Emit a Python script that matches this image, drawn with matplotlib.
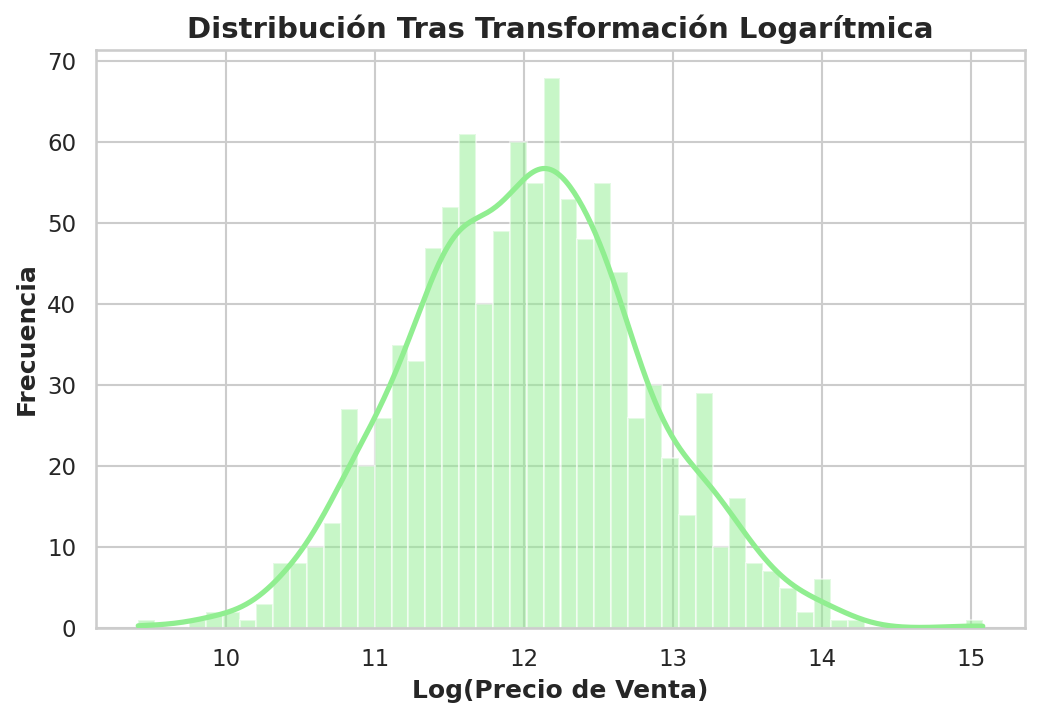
import numpy as np
import matplotlib
matplotlib.use("Agg")
import matplotlib.pyplot as plt
import seaborn as sns

""" Data """

# histogram: 50 bins between bin_lo and bin_hi
bin_lo = 9.413
bin_hi = 15.081
counts = [1, 0, 0, 1, 2, 2, 1, 3, 8, 8,
          10, 13, 27, 20, 26, 35, 33, 47, 52, 61,
          40, 49, 60, 55, 68, 53, 48, 55, 44, 26,
          30, 21, 14, 29, 10, 16, 8, 7, 5, 2,
          6, 1, 1, 0, 0, 0, 0, 0, 0, 1]

title = 'Distribución Tras Transformación Logarítmica'
xlabel = 'Log(Precio de Venta)'
ylabel = 'Frecuencia'
xticks = [10, 11, 12, 13, 14, 15]
yticks = [0, 10, 20, 30, 40, 50, 60, 70]

""" Prep """

counts = np.array(counts, dtype=float)
edges = np.linspace(bin_lo, bin_hi, len(counts) + 1)
centers = (edges[:-1] + edges[1:]) / 2
width = edges[1] - edges[0]

# gaussian kde on the binned values (scott bandwidth), cut at data range
n = counts.sum()
mean = np.sum(centers * counts) / n
std = np.sqrt(np.sum(counts * (centers - mean) ** 2) / n)
bw = std * n ** (-1 / 5)
grid = np.linspace(bin_lo, bin_hi, 400)
dens = np.zeros_like(grid)
for c, w in zip(centers, counts):
    dens += w * np.exp(-0.5 * ((grid - c) / bw) ** 2)
dens = dens / (n * bw * np.sqrt(2 * np.pi))
kde_y = dens * n * width

""" Plot """

sns.set_theme(style='whitegrid', context='notebook')
plt.rcParams['font.family'] = ['DejaVu Sans']

fig = plt.figure(figsize=(1041 / 150, 718 / 150), dpi=150)
ax = fig.add_axes([96 / 1041, 90 / 718, 929 / 1041, 578 / 718])

ax.bar(edges[:-1], counts, width=width, align='edge', color='lightgreen',
       alpha=0.5, edgecolor='white', linewidth=1, zorder=2)
ax.plot(grid, kde_y, color='lightgreen', linewidth=2.5, zorder=3)

ax.set_xticks(xticks)
ax.set_yticks(yticks)
ax.margins(x=0.05, y=0.05)
ax.set_ylim(0, counts.max() * 1.05)
ax.set_title(title, fontsize=14, fontweight='bold')
ax.set_xlabel(xlabel, fontsize=12, fontweight='bold')
ax.set_ylabel(ylabel, fontsize=12, fontweight='bold')
ax.set_axisbelow(True)

fig.savefig('out.png', dpi=150)
